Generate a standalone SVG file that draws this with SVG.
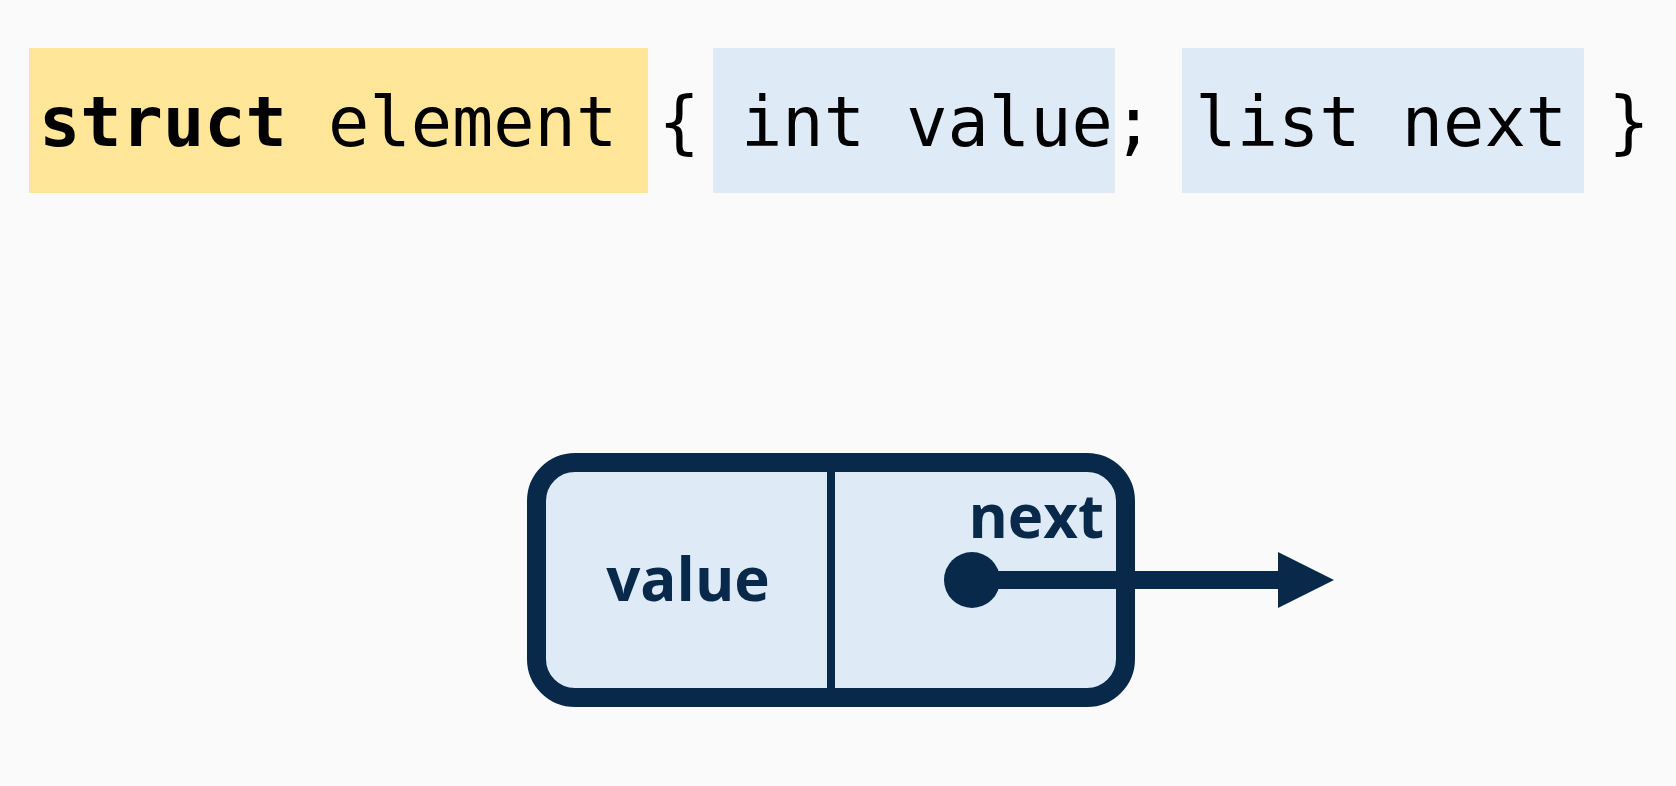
<svg xmlns="http://www.w3.org/2000/svg" width="1676" height="786" viewBox="0 0 1676 786">
<defs>
<style>
.bg{fill:#fafafa}
.code{font-family:"DejaVu Sans Mono","Liberation Mono",monospace;font-size:68.6px;fill:#000}
.kw{font-weight:bold}
.hl-y{fill:#ffe699}
.hl-b{fill:#deebf7}
.cell{fill:#deebf7;stroke:#08294a;stroke-width:19}
.div{stroke:#08294a;stroke-width:8}
.lbl{font-family:"Open Sans","Noto Sans",sans-serif;font-weight:bold;font-size:60px;fill:#08294a}
.ptr{stroke:#08294a;stroke-width:18;fill:none}
.nav{fill:#08294a}
</style>
</defs>
<rect class="bg" x="0" y="0" width="1676" height="786"/>
<g id="code-line">
<rect class="hl-y" x="29" y="48" width="619" height="145"/>
<rect class="hl-b" x="713" y="48" width="402" height="145"/>
<rect class="hl-b" x="1182" y="48" width="402" height="145"/>
<text class="code" x="39" y="146"><tspan class="kw">struct</tspan> element { int value; list next }</text>
</g>
<g id="element-node">
<rect class="cell" x="536.5" y="462.5" width="589" height="235" rx="38.5" ry="38.5"/>
<line class="div" x1="831" y1="462" x2="831" y2="698"/>
<text class="lbl" x="688" y="601" text-anchor="middle">value</text>
<text class="lbl" x="1104" y="538" text-anchor="end">next</text>
</g>
<g id="connectors">
<circle class="nav" cx="972" cy="580" r="28"/>
<line class="ptr" x1="972" y1="580" x2="1282" y2="580"/>
<polygon class="nav" points="1278,552 1334,580 1278,608"/>
</g>
</svg>
